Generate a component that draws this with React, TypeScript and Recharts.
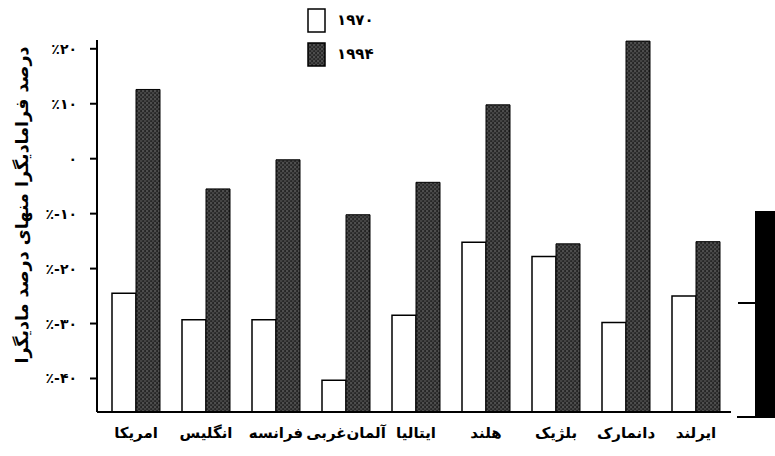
import { BarChart, Bar, XAxis, YAxis, Legend, Label } from 'recharts'

const countries = ['امریکا', 'انگلیس', 'فرانسه', 'آلمان‌غربی', 'ایتالیا', 'هلند', 'بلژیک', 'دانمارک', 'ایرلند']
const values1970 = [-24.5, -29.3, -29.3, -40.3, -28.5, -15.2, -17.8, -29.8, -25.0]
const values1994 = [12.6, -5.5, -0.2, -10.2, -4.3, 9.8, -15.5, 21.4, -15.1]
const yTicks = [20, 10, 0, -10, -20, -30, -40]
const yTickLabels = ['٪۲۰', '٪۱۰', '۰', '٪-۱۰', '٪-۲۰', '٪-۳۰', '٪-۴۰']
const seriesNames = ['۱۹۷۰', '۱۹۹۴']
const yTitle = 'درصد فرامادیگرا منهای درصد مادیگرا'

// bars start at the bottom of the axis, not at zero
const BASE = -46.1
const TOP = 21.6

const FONT = '"DejaVu Sans", sans-serif'

const data = countries.map((country, i) => ({
    country,
    v1970: values1970[i],
    v1994: values1994[i],
}))

function Stipple({ id }: { id: string }) {
    return (
        <pattern id={id} width="4" height="4" patternUnits="userSpaceOnUse">
            <rect width="4" height="4" fill="#222" />
            <rect x="0.5" y="0.5" width="1" height="1" fill="#a8a8a8" />
            <rect x="2.5" y="2.5" width="1" height="1" fill="#d0d0d0" />
            <rect x="2.5" y="0.5" width="0.8" height="0.8" fill="#666" />
            <rect x="0.5" y="2.6" width="0.7" height="0.7" fill="#555" />
        </pattern>
    )
}

function renderLegend() {
    const rows = [
        { name: seriesNames[0], fill: '#fff' },
        { name: seriesNames[1], fill: 'url(#stippleLegend)' },
    ]
    return (
        <div style={{ fontFamily: FONT }}>
            {rows.map((r, i) => (
                <div key={r.name} style={{ display: 'flex', alignItems: 'center', height: 24, marginBottom: i === 0 ? 10 : 0 }}>
                    <svg width={19} height={25} style={{ display: 'block' }}>
                        <defs>
                            <Stipple id="stippleLegend" />
                        </defs>
                        <rect x={1} y={1} width={17} height={23} fill={r.fill} stroke="#000" strokeWidth={1.5} />
                    </svg>
                    <span style={{ marginLeft: 11, fontSize: 15, fontWeight: 'bold', color: '#000' }}>{r.name}</span>
                </div>
            ))}
        </div>
    )
}

function YTick(props: any) {
    const { x, y, payload } = props
    const label = yTickLabels[yTicks.indexOf(payload.value)] ?? ''
    return (
        <text
            x={x}
            y={y}
            textAnchor="end"
            dominantBaseline="central"
            direction="ltr"
            unicodeBidi="bidi-override"
            fontFamily={FONT}
            fontWeight="bold"
            fontSize={14}
            fill="#000"
        >
            {label}
        </text>
    )
}

function YTitle(props: any) {
    const { x, y, height } = props.viewBox
    return (
        <text
            transform={`translate(${x + 22}, ${y + height / 2 - 21}) rotate(-90)`}
            textAnchor="middle"
            dominantBaseline="central"
            fontFamily={FONT}
            fontWeight="bold"
            fontSize={17.5}
            fill="#000"
        >
            {yTitle}
        </text>
    )
}

export default function App() {
    return (
        <div style={{ position: 'absolute', left: 0, top: 0, width: 775, height: 456, background: '#fff' }}>
            <BarChart
                width={775}
                height={456}
                data={data}
                margin={{ top: 40, right: 44, left: 0, bottom: 4 }}
                barGap={0}
                barSize={24}
            >
                <defs>
                    <Stipple id="stipple" />
                </defs>
                <XAxis
                    dataKey="country"
                    height={40}
                    padding={{ left: 4, right: 0 }}
                    axisLine={{ stroke: '#000', strokeWidth: 2 }}
                    tickLine={false}
                    tickMargin={9}
                    interval={0}
                    tick={{ fill: '#000', fontSize: 15, fontWeight: 'bold', fontFamily: FONT }}
                />
                <YAxis
                    type="number"
                    width={97}
                    domain={[BASE, TOP]}
                    ticks={yTicks}
                    interval={0}
                    axisLine={{ stroke: '#000', strokeWidth: 2 }}
                    tickLine={{ stroke: '#000', strokeWidth: 2 }}
                    tickSize={7}
                    tickMargin={13}
                    tick={<YTick />}
                >
                    <Label content={YTitle} />
                </YAxis>
                <Legend
                    layout="horizontal"
                    verticalAlign="middle"
                    align="center"
                    wrapperStyle={{ left: 307, top: 8, width: 90, height: 60 }}
                    content={renderLegend}
                />
                <Bar
                    name={seriesNames[0]}
                    dataKey={(d: any) => [BASE, d.v1970]}
                    fill="#fff"
                    stroke="#000"
                    strokeWidth={1.5}
                    isAnimationActive={false}
                />
                <Bar
                    name={seriesNames[1]}
                    dataKey={(d: any) => [BASE, d.v1994]}
                    fill="url(#stipple)"
                    stroke="#000"
                    strokeWidth={1}
                    isAnimationActive={false}
                />
            </BarChart>
            {/* edge of the neighbouring figure, cut off at the right */}
            <div style={{ position: 'absolute', left: 755, top: 211, width: 20, height: 206, background: '#000' }} />
            <div style={{ position: 'absolute', left: 738, top: 302, width: 17, height: 2, background: '#000' }} />
            <div style={{ position: 'absolute', left: 737, top: 416, width: 38, height: 2, background: '#000' }} />
        </div>
    )
}
